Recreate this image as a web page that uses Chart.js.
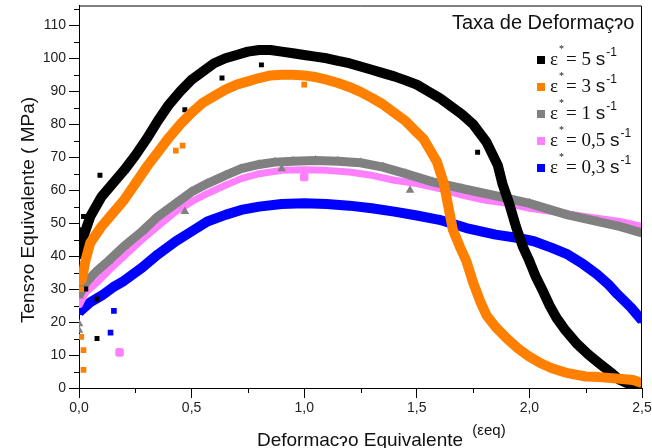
<!DOCTYPE html>
<html lang="pt">
<head>
<meta charset="UTF-8" />
<title>Tensão x Deformação</title>
<script src="https://cdn.jsdelivr.net/npm/chart.js"></script>
<style>
  body { margin: 0; background: #fff; }
  #wrap { width: 652px; height: 448px; }
</style>
</head>
<body>
<div id="wrap"><canvas id="chart" width="652" height="448"></canvas></div>
<script>
// rate labels (legend) and colours
const rates = ["5", "3", "1", "0,5", "0,3"];
const colors = ["#000000", "#ff7f00", "#808080", "#ff80ff", "#0000ff"];

// curves: [strain, stress MPa]
const rate5 = [[0.0,40],[0.02,46],[0.05,52],[0.1,58],[0.15,62],[0.2,66],[0.25,70.5],[0.3,75.5],[0.35,81],[0.4,86],[0.45,90],[0.5,93.5],[0.55,96],[0.6,98.5],[0.65,100],[0.7,101],[0.75,102],[0.8,102.5],[0.85,102.5],[0.9,102],[0.95,101.5],[1.0,101],[1.05,100.5],[1.1,100],[1.15,99.2],[1.2,98.5],[1.25,97.5],[1.3,96.5],[1.35,95.5],[1.4,94.5],[1.45,93.3],[1.5,92],[1.55,90],[1.6,88],[1.65,85.5],[1.7,83],[1.75,80],[1.81,74.5],[1.86,67.5],[1.88,62],[1.91,56],[1.94,49],[1.97,43],[2.0,38.5],[2.03,33.5],[2.06,29.4],[2.09,25],[2.12,21.3],[2.16,17.5],[2.21,13.5],[2.26,10.3],[2.31,7.5],[2.36,4.8],[2.4,2.5],[2.45,1],[2.5,0]];
const rate3 = [[0.01,32],[0.03,39],[0.05,44],[0.1,49],[0.15,53],[0.2,57],[0.25,62],[0.3,67],[0.35,71.5],[0.4,76],[0.45,80],[0.5,83.5],[0.55,86.5],[0.6,88.5],[0.65,90.5],[0.7,92],[0.75,93],[0.8,94],[0.85,94.8],[0.9,95],[0.95,95],[1.0,94.8],[1.05,94.3],[1.1,93.5],[1.15,92.5],[1.2,91.3],[1.25,89.8],[1.3,88],[1.35,86],[1.4,83.5],[1.45,81],[1.5,77.5],[1.53,75.5],[1.56,72],[1.59,68.5],[1.62,62],[1.64,55],[1.66,48],[1.69,43],[1.72,38.5],[1.75,32],[1.78,26.5],[1.81,22],[1.85,18.5],[1.9,15],[1.95,12],[2.0,9.5],[2.05,7.5],[2.1,6],[2.17,4.5],[2.25,3.5],[2.31,3.3],[2.4,2.8],[2.46,2.4],[2.5,1.5]];
const rate1 = [[0.0,28],[0.03,32],[0.08,35.5],[0.13,38.5],[0.2,43],[0.28,47.5],[0.35,52],[0.43,56],[0.5,59.5],[0.57,62],[0.65,64.5],[0.72,66.5],[0.8,67.8],[0.87,68.5],[0.95,68.8],[1.05,69],[1.15,68.8],[1.25,68.3],[1.35,67],[1.45,65],[1.57,62.5],[1.7,60.5],[1.87,58],[2.0,56],[2.17,52.5],[2.3,50.5],[2.4,49],[2.5,47]];
const rate05 = [[0.0,25],[0.03,29],[0.08,32],[0.13,35.5],[0.2,40],[0.28,45],[0.35,49],[0.43,53.5],[0.5,56.5],[0.57,59],[0.65,61.5],[0.72,63.5],[0.8,65],[0.9,66],[1.0,66.2],[1.1,66],[1.2,65.5],[1.3,64.5],[1.4,63],[1.5,62],[1.6,60.5],[1.7,58.5],[1.8,57],[1.9,56],[2.0,54.5],[2.1,53.5],[2.2,52.5],[2.3,51.5],[2.4,50.5],[2.5,49]];
const rate03 = [[0.0,23],[0.05,26],[0.1,28],[0.15,30.5],[0.2,32.5],[0.28,36.5],[0.35,40.5],[0.43,44.5],[0.5,47.5],[0.57,50.5],[0.65,52.5],[0.72,54],[0.8,55],[0.9,55.8],[1.0,56],[1.1,55.8],[1.2,55.3],[1.3,54.5],[1.4,53.5],[1.5,52.3],[1.6,51],[1.72,48.5],[1.85,46.5],[1.95,45.5],[2.02,44.5],[2.1,42.5],[2.17,40.5],[2.24,37.5],[2.3,34.5],[2.35,31.5],[2.39,28.5],[2.45,24.5],[2.5,20.5]];

// stray points lying off the bands
const stray5 = [[0.08,15],[0.08,27],[0.0,35],[0.0,48],[0.02,52],[0.03,30],[0.093,64.5],[0.47,84.4],[0.635,94],[0.81,98],[1.77,71.5]];
const stray3 = [[0.02,5.5],[0.02,11.5],[0.01,15.5],[0.01,30],[0.43,72],[0.46,73.5],[1.0,92]];
const stray1 = [[0.0,17.5],[0.0,19.5],[0.47,53.5],[0.9,66.5],[1.47,60]];
const stray05 = [[0.18,10.8],[1.0,64]];
const stray03 = [[0.14,16.8],[0.155,23.4]];

const xTicks = [0, 0.5, 1.0, 1.5, 2.0, 2.5];
const yTicks = [0, 10, 20, 30, 40, 50, 60, 70, 80, 90, 100, 110];

const toXY = arr => arr.map(p => ({ x: p[0], y: p[1] }));

function band(data, color, style, width, r) {
  return {
    data: toXY(data), showLine: true, borderColor: color, backgroundColor: color,
    borderWidth: width, borderJoinStyle: "round", tension: 0,
    pointStyle: style, pointRadius: r, pointBorderWidth: 0, pointBackgroundColor: color
  };
}
function stray(data, color, style, r) {
  return {
    data: toXY(data), showLine: false, backgroundColor: color, borderColor: color,
    pointStyle: style, pointRadius: r, pointBorderWidth: 0
  };
}

// first dataset is drawn on top
const datasets = [
  band(rate3, colors[1], "rect", 10, 4),
  stray(stray3, colors[1], "rect", 4),
  band(rate5, colors[0], "rect", 10, 4),
  stray(stray5, colors[0], "rect", 3.5),
  band(rate1, colors[2], "triangle", 9, 5.5),
  stray(stray1, colors[2], "triangle", 5),
  band(rate05, colors[3], "rect", 7, 3.5),
  stray(stray05, colors[3], "rectRounded", 5),
  band(rate03, colors[4], "rect", 10, 4),
  stray(stray03, colors[4], "rect", 4)
];

const FONT = "Arial, 'Liberation Sans', sans-serif";
const SERIF = "'Times New Roman', 'Liberation Serif', serif";

const decor = {
  id: "decor",
  afterDraw(chart) {
    const ctx = chart.ctx;
    const a = chart.chartArea;
    const xs = chart.scales.x, ys = chart.scales.y;
    ctx.save();
    // frame top/right
    ctx.strokeStyle = "#000";
    ctx.lineWidth = 1;
    ctx.beginPath();
    ctx.moveTo(a.left, a.top + 0.5);
    ctx.lineTo(a.right - 0.5, a.top + 0.5);
    ctx.lineTo(a.right - 0.5, a.bottom);
    ctx.stroke();
    // minor ticks
    ctx.beginPath();
    for (let v = 5; v < 116; v += 10) {
      const y = Math.round(ys.getPixelForValue(v)) + 0.5;
      ctx.moveTo(a.left - 5, y); ctx.lineTo(a.left, y);
    }
    for (let v = 0.25; v < 2.5; v += 0.5) {
      const x = Math.round(xs.getPixelForValue(v)) + 0.5;
      ctx.moveTo(x, a.bottom); ctx.lineTo(x, a.bottom + 5);
    }
    ctx.stroke();

    // axis titles
    ctx.fillStyle = "#111";
    ctx.font = "19px " + FONT;
    ctx.textAlign = "center";
    ctx.textBaseline = "alphabetic";
    ctx.fillText("Deformacɂo Equivalente", 360, 446);
    ctx.font = "15px " + FONT;
    ctx.fillText("(εeq)", 489, 435);
    ctx.save();
    ctx.translate(29, 210);
    ctx.rotate(-Math.PI / 2);
    ctx.font = "19px " + FONT;
    ctx.textBaseline = "middle";
    ctx.fillText("Tensɂo Equivalente ( MPa)", 0, 0);
    ctx.restore();

    // legend
    ctx.textAlign = "left";
    ctx.textBaseline = "alphabetic";
    ctx.font = "20px " + FONT;
    ctx.fillStyle = "#111";
    ctx.fillText("Taxa de Deformaçɂo", 452, 29);
    rates.forEach((r, i) => {
      const cy = 60 + i * 27;
      ctx.fillStyle = colors[i];
      ctx.fillRect(537, cy - 4, 8, 8);
      ctx.fillStyle = "#111";
      let x = 550;
      ctx.font = "19px " + SERIF;
      ctx.fillText("ε", x, cy + 5);
      ctx.font = "10px " + SERIF;
      ctx.fillText("*", x + 9, cy - 8);
      ctx.font = "19px " + SERIF;
      x += 16;
      const t = "= " + r + " ";
      ctx.fillText(t, x, cy + 5);
      x += ctx.measureText(t).width;
      ctx.font = "19px " + FONT;
      ctx.fillText("s", x, cy + 5);
      x += ctx.measureText("s").width;
      ctx.font = "12px " + FONT;
      ctx.fillText("-1", x + 1, cy - 4);
    });
    ctx.restore();
  }
};

new Chart(document.getElementById("chart"), {
  type: "scatter",
  data: { datasets },
  options: {
    responsive: false,
    animation: false,
    layout: { padding: { top: 4, right: 10, left: 0, bottom: 0 } },
    plugins: { legend: { display: false }, tooltip: { enabled: false } },
    scales: {
      x: {
        type: "linear", min: 0, max: 2.5,
        afterFit: s => { s.height = 60; s.paddingLeft = 0; s.paddingRight = 0; },
        afterBuildTicks: s => { s.ticks = xTicks.map(v => ({ value: v })); },
        border: { color: "#000", width: 1 },
        grid: { drawOnChartArea: false, drawTicks: true, tickLength: 10, color: "#000" },
        ticks: {
          color: "#222", font: { family: FONT, size: 14 }, padding: 2,
          callback: v => v.toFixed(1).replace(".", ",")
        }
      },
      y: {
        type: "linear", min: 0, max: 116,
        afterFit: s => { s.width = 79; s.paddingTop = 0; s.paddingBottom = 0; },
        afterBuildTicks: s => { s.ticks = yTicks.map(v => ({ value: v })); },
        border: { color: "#000", width: 1 },
        grid: { drawOnChartArea: false, drawTicks: true, tickLength: 10, color: "#000" },
        ticks: { color: "#222", font: { family: FONT, size: 14 }, padding: 3 }
      }
    }
  },
  plugins: [decor]
});
</script>
</body>
</html>
